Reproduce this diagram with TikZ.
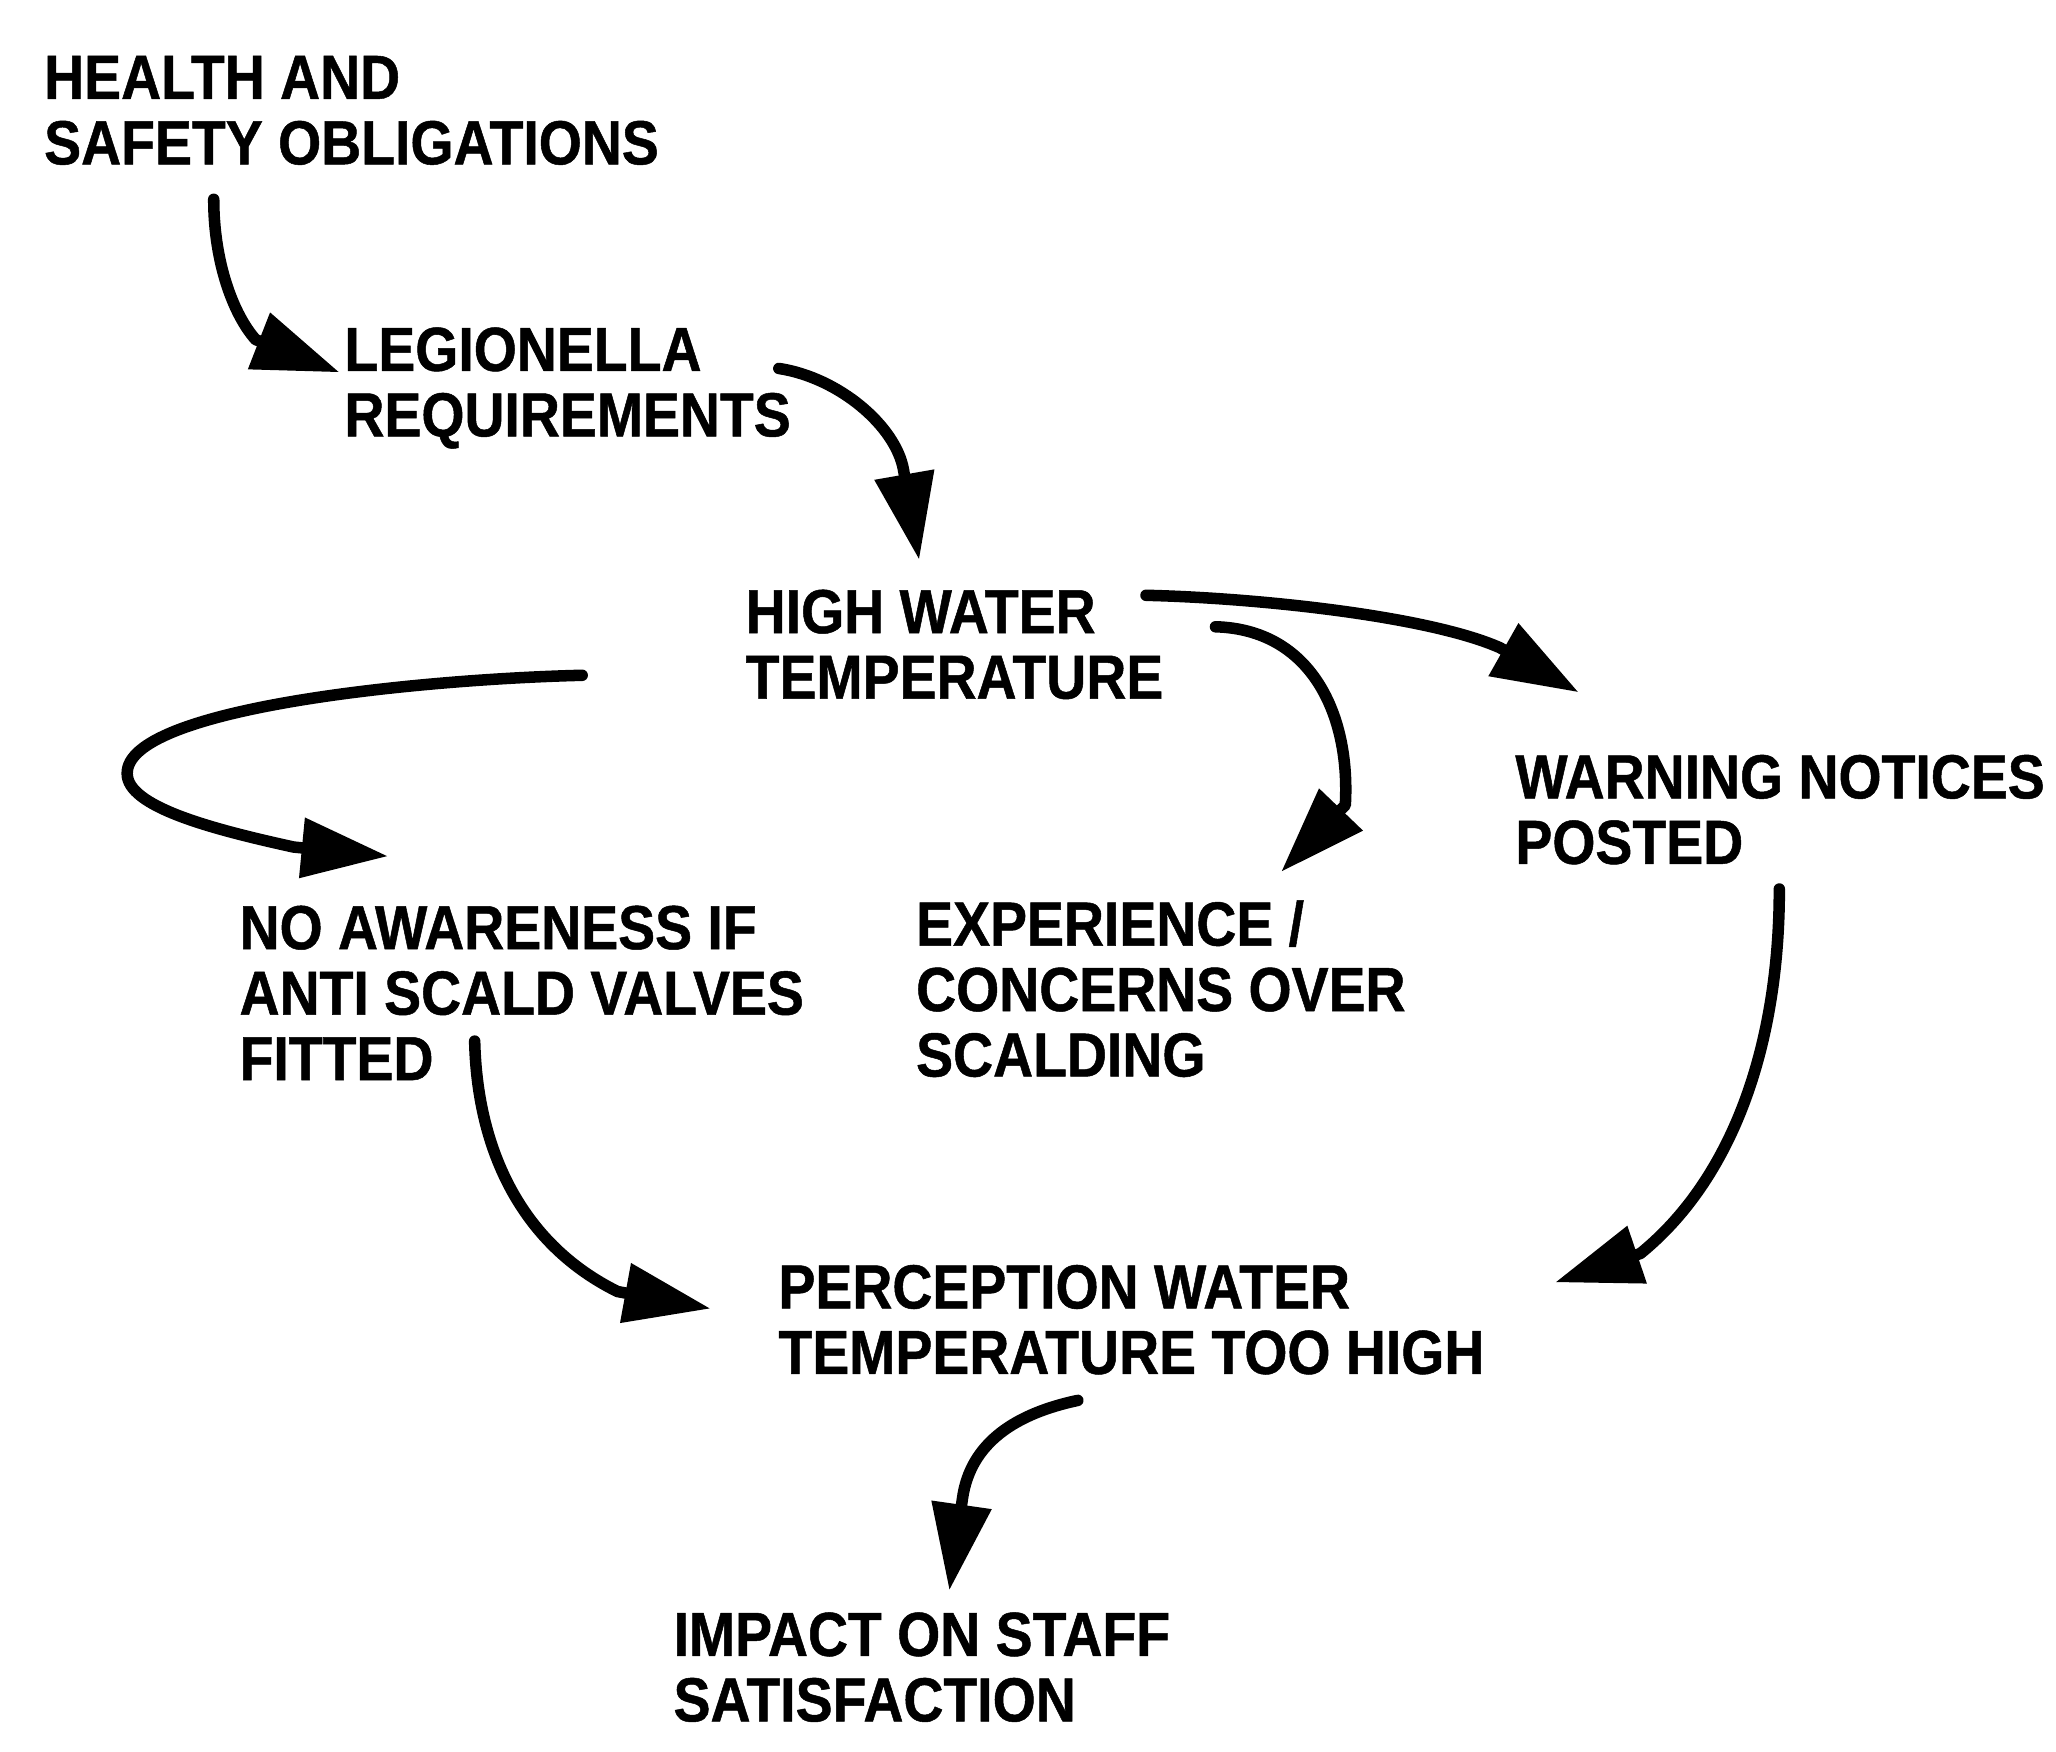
\documentclass[tikz,border=0pt]{standalone}
\usepackage{fontspec}
\newfontfamily\lblfont{Liberation Sans}[FakeStretch=0.89,FakeBold=0.8]
\usetikzlibrary{arrows.meta}
\begin{document}
\begin{tikzpicture}[x=0.01cm,y=-0.01cm,
  lbl/.style={anchor=north west, inner sep=0pt, align=left,
    font=\lblfont\bfseries\fontsize{13.5pt}{14.2pt}\selectfont},
  flow/.style={line width=2.5pt, line cap=round, line join=round,
    -{Triangle[length=6.6mm,width=4.4mm]}}]
\fill[white] (0,0) rectangle (1568,1336);
\useasboundingbox (0,0) rectangle (1568,1336);

% labels
\node[lbl] (health) at (33,42)   {HEALTH AND\\SAFETY OBLIGATIONS};
\node[lbl] (legion) at (262,249) {LEGIONELLA\\REQUIREMENTS};
\node[lbl] (highwt) at (568,449) {HIGH WATER\\TEMPERATURE};
\node[lbl] (warn)   at (1155,575) {WARNING NOTICES\\POSTED};
\node[lbl] (aware)  at (182,690) {NO AWARENESS IF\\ANTI SCALD VALVES\\FITTED};
\node[lbl] (exper)  at (698,686) {EXPERIENCE /\\CONCERNS OVER\\SCALDING};
\node[lbl] (percep) at (593,964) {PERCEPTION WATER\\TEMPERATURE TOO HIGH};
\node[lbl] (impact) at (513,1229) {IMPACT ON STAFF\\SATISFACTION};

% connector ends
\coordinate (h-out)   at (163,152);
\coordinate (l-in)    at (259,284);
\coordinate (l-out)   at (594,281);
\coordinate (hw-in)   at (701,427);
\coordinate (hw-out1) at (874,454);
\coordinate (wn-in)   at (1204,528);
\coordinate (hw-out2) at (927,478);
\coordinate (ex-in)   at (977,665);
\coordinate (hw-out3) at (444,515);
\coordinate (aw-in)   at (296,653);
\coordinate (aw-out)  at (362,794);
\coordinate (pc-in1)  at (542,998);
\coordinate (wn-out)  at (1357,678);
\coordinate (pc-in2)  at (1186,978);
\coordinate (pc-out)  at (822,1068);
\coordinate (im-in)   at (724,1213);

% arrows
\draw[flow] (h-out) .. controls (163,200) and (178,240) .. (195,259) -- (l-in);
\draw[flow] (l-out) .. controls (640,288) and (683,325) .. (689,358) -- (hw-in);
\draw[flow] (hw-out1) .. controls (960,456) and (1090,470) .. (1144,494) -- (wn-in);
\draw[flow] (hw-out2) .. controls (1000,480) and (1030,545) .. (1026,614) -- (ex-in);
\draw[flow] (hw-out3) .. controls (320,518) and (96,540) .. (97,590)
            .. controls (97,615) and (160,632) .. (224,646) -- (aw-in);
\draw[flow] (aw-out) .. controls (364,880) and (400,950) .. (471,985) -- (pc-in1);
\draw[flow] (wn-out) .. controls (1357,800) and (1320,900) .. (1251,956) -- (pc-in2);
\draw[flow] (pc-out) .. controls (775,1078) and (740,1100) .. (734,1143) -- (im-in);
\end{tikzpicture}
\end{document}
